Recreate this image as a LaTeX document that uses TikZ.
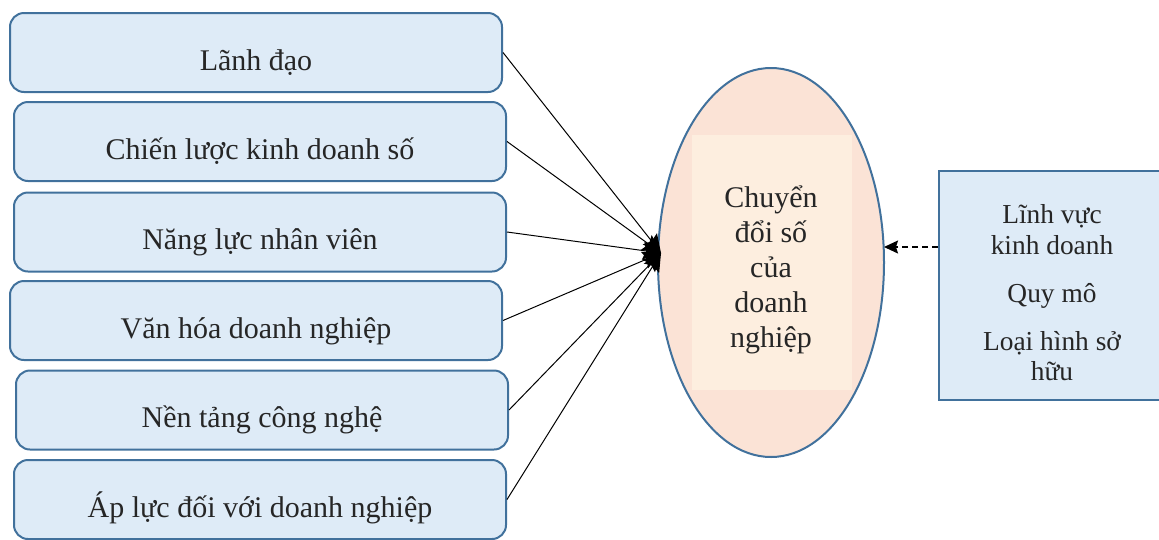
\documentclass[tikz,border=0pt]{standalone}
\usepackage{fontspec}
\setmainfont{Liberation Serif}
\usetikzlibrary{arrows.meta,shapes.geometric}
\definecolor{edgeblue}{HTML}{41719C}
\definecolor{boxfill}{HTML}{DEEBF7}
\definecolor{ellfill}{HTML}{FBE3D6}
\definecolor{innerfill}{HTML}{FDEEDF}
\definecolor{txt}{HTML}{262626}
\begin{document}
\begin{tikzpicture}[x=1pt,y=-1pt,
 factor/.style={draw=edgeblue, line width=2pt, fill=boxfill, rounded corners=14pt,
   minimum width=492pt, minimum height=79pt, inner sep=0pt,
   font=\fontsize{30}{35}\selectfont, text=txt, text height=40pt, text depth=5pt},
 link/.style={-{Stealth[length=18pt,width=18pt,inset=3pt]}, line width=1pt},
 rtext/.style={anchor=base, font=\fontsize{27.4}{31}\selectfont, text=txt, inner sep=0pt},
]
\useasboundingbox (0,0) rectangle (1159,539);
\node[factor] (b1) at (256,52.5) {Lãnh đạo};
\node[factor] (b2) at (260,141.5) {Chiến lược kinh doanh số};
\node[factor] (b3) at (260,232) {Năng lực nhân viên};
\node[factor] (b4) at (256,320.5) {Văn hóa doanh nghiệp};
\node[factor] (b5) at (262,410) {Nền tảng công nghệ};
\node[factor] (b6) at (260,499.5) {Áp lực đối với doanh nghiệp};

\node[ellipse, draw=edgeblue, line width=2pt, fill=ellfill, minimum width=226pt,
  minimum height=389pt, inner sep=0pt] (e) at (771,262.5) {};
\fill[innerfill] (692,135) rectangle (852,390);
\node[align=center, font=\fontsize{30}{35}\selectfont, text=txt, inner sep=0pt] (et) at (771,270)
  {Chuyển\\đổi số\\của\\doanh\\nghiệp};

\node[draw=edgeblue, line width=2pt, fill=boxfill, minimum width=231pt, minimum height=229pt,
  inner sep=0pt] (rb) at (1054.5,285.5) {};
\node[rtext] (r1) at (1052,223) {Lĩnh vực};
\node[rtext] (r2) at (1052,254) {kinh doanh};
\node[rtext] (r3) at (1052,302) {Quy mô};
\node[rtext] (r4) at (1052,350) {Loại hình sở};
\node[rtext] (r5) at (1052,380) {hữu};

\coordinate (c) at (661,253);
\foreach \b in {b1,b2,b3,b4,b5,b6}
  \draw[link] (\b.east) -- (c);

\coordinate (de) at (884,247);
\draw[line width=1.3pt, dash pattern=on 6pt off 4pt, -{Stealth[length=14pt,width=13pt,inset=2pt]}] ([yshift=38.5pt]rb.west) -- (de);
\end{tikzpicture}
\end{document}
